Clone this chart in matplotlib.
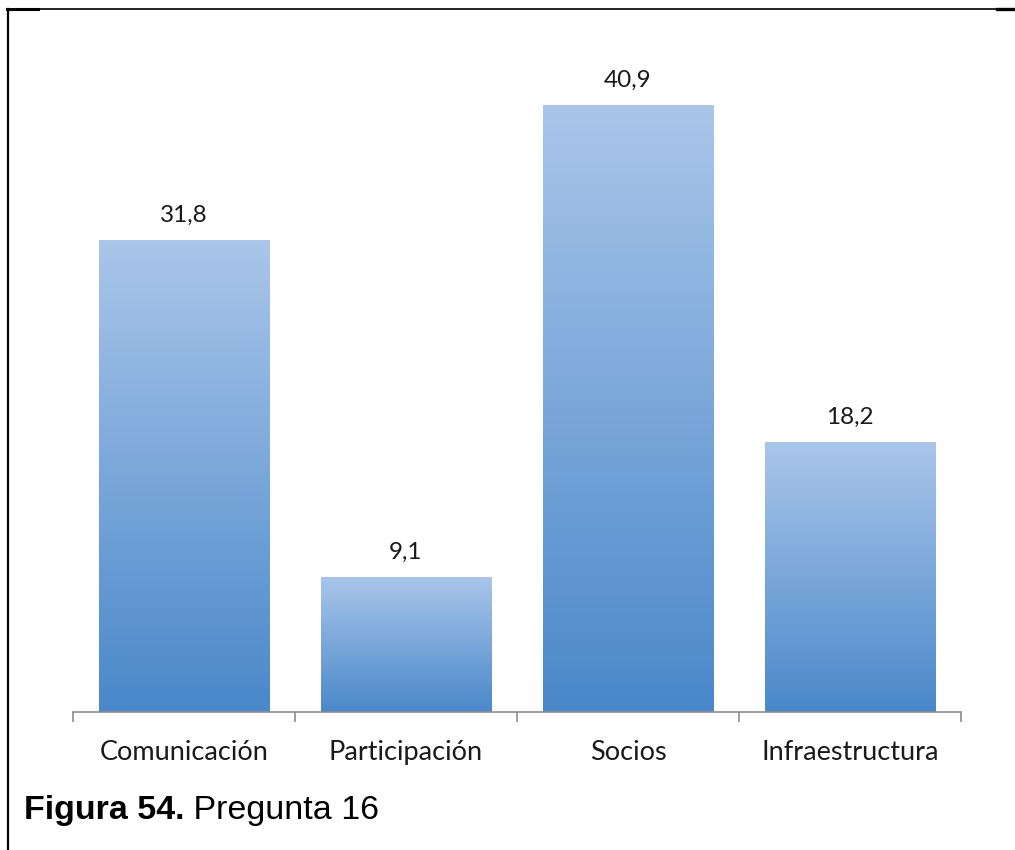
import matplotlib
matplotlib.use("Agg")
import matplotlib.pyplot as plt
import numpy as np
from matplotlib.colors import LinearSegmentedColormap
from matplotlib.lines import Line2D

# respuestas a la pregunta 16 (porcentaje)
categorias = ["Comunicación", "Participación", "Socios", "Infraestructura"]
valores = [31.8, 9.1, 40.9, 18.2]
etiquetas = ["31,8", "9,1", "40,9", "18,2"]

fuente = ["Lato", "DejaVu Sans"]
degradado = LinearSegmentedColormap.from_list("azul", ["#4a88ca", "#aac6ea"])

fig = plt.figure(figsize=(10.15, 8.5), dpi=100)
ax = fig.add_axes([0.0719, 0.1624, 0.8749, 0.786])

x = np.arange(len(categorias))
barras = ax.bar(x, valores, width=0.77, color="none", edgecolor="none", zorder=2)

# relleno en degradado de cada barra: claro arriba, oscuro abajo
grad = np.linspace(0, 1, 256).reshape(-1, 1)
for b in barras:
    x0, w, h = b.get_x(), b.get_width(), b.get_height()
    img = ax.imshow(grad, cmap=degradado, aspect="auto", origin="lower",
                    extent=[x0, x0 + w, 0, h], zorder=2, interpolation="bicubic")
    img.set_clip_path(b)

for xi, v, t in zip(x, valores, etiquetas):
    ax.annotate(t, (xi, v), xytext=(0, 10), textcoords="offset points",
                ha="center", va="bottom", fontsize=17.5, family=fuente,
                color="#1a1a1a")

ax.set_xlim(-0.5, len(categorias) - 0.5)
ax.set_ylim(0, 45)
for s in ["top", "right", "left"]:
    ax.spines[s].set_visible(False)
ax.spines["bottom"].set_color("#8c8c8c")
ax.spines["bottom"].set_linewidth(1.2)
ax.set_yticks([])

ax.set_xticks(x)
ax.set_xticklabels(categorias, family=fuente, fontsize=19.5, color="#1a1a1a")
ax.tick_params(axis="x", which="major", length=0, pad=20)
ax.set_xticks(np.arange(-0.5, len(categorias)), minor=True)
ax.tick_params(axis="x", which="minor", length=7, width=1.2, color="#8c8c8c")

# marco de la pagina
fig.add_artist(Line2D([0.0069, 1.0], [0.9894, 0.9894], color="black", lw=1.2))
fig.add_artist(Line2D([0.0069, 0.037], [0.9894, 0.9894], color="black", lw=2.2))
fig.add_artist(Line2D([0.982, 1.0], [0.9894, 0.9894], color="black", lw=2.4))
fig.add_artist(Line2D([0.0079, 0.0079], [0.9894, 0.0], color="black", lw=1.6))

# pie de figura
t1 = fig.text(0.0236, 0.036, "Figura 54.", fontsize=24.5, fontweight="bold",
              family="Liberation Sans", va="baseline", ha="left")
fig.canvas.draw()
bb = t1.get_window_extent(renderer=fig.canvas.get_renderer())
fig.text(bb.x1 / fig.bbox.width, 0.036, " Pregunta 16", fontsize=24.5,
         family="Liberation Sans", va="baseline", ha="left")

fig.savefig("out.png", dpi=100)
